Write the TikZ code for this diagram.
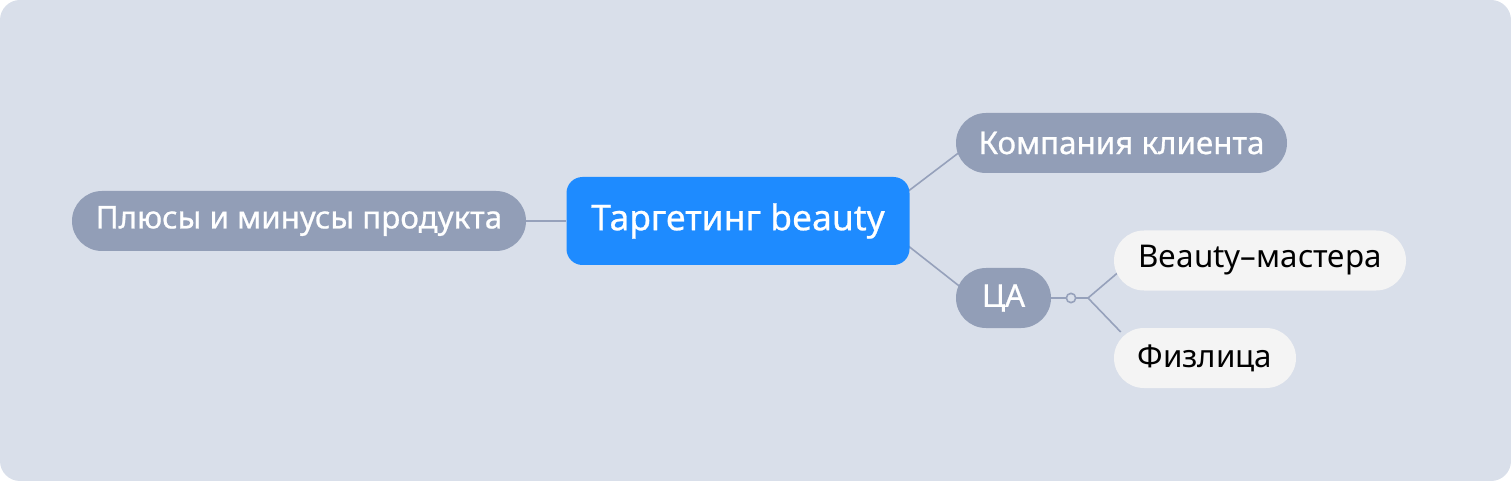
\documentclass[tikz,border=0pt]{standalone}
\usepackage{fontspec}
\setmainfont{Noto Sans}
\newfontfamily\heavyfont{Noto Sans}[FakeBold=0.7]
\usetikzlibrary{backgrounds,calc}

\definecolor{canvas}{HTML}{D9DFEA}
\definecolor{pillgray}{HTML}{929EB7}
\definecolor{linkgray}{HTML}{96A1BB}
\definecolor{topicblue}{HTML}{1E8BFF}
\definecolor{leafwhite}{HTML}{F4F4F4}

\begin{document}
\begin{tikzpicture}[x=0.75pt, y=-0.75pt,
    branch/.style={fill=pillgray, text=white, rounded corners=22.5pt,
      minimum height=45pt, inner sep=0pt, font=\heavyfont\fontsize{23.5}{28}\selectfont},
    leaf/.style={fill=leafwhite, text=black, rounded corners=22.5pt,
      minimum height=45pt, inner sep=0pt, font=\fontsize{23.5}{28}\selectfont},
    link/.style={draw=linkgray, line width=1.2pt}]
        \useasboundingbox (0,0) rectangle (1511,481);

        % Central topic.
        \node[fill=topicblue, text=white, rounded corners=12pt,
          minimum width=257.25pt, minimum height=66pt, inner sep=0pt,
          font=\heavyfont\fontsize{26.6}{31}\selectfont] (ctr) at (738,221) {Таргетинг beauty};

        % Branches.
        \node[branch, minimum width=340.5pt] (plus) at (299,221) {Плюсы и минусы продукта};
        \node[branch, minimum width=248.25pt] (comp) at (1121.5,143) {Компания клиента};
        \node[branch, minimum width=71.25pt] (ca) at (1003.5,298) {ЦА};

        % Leaves of the audience branch.
        \node[leaf, minimum width=219pt] (beauty) at (1260,260.5) {Beauty–мастера};
        \node[leaf, minimum width=136.5pt] (fiz) at (1205,358) {Физлица};

        % Collapse knob and fork point.
        \node[circle, draw=linkgray, fill=canvas, line width=1.2pt,
          minimum size=7pt, inner sep=0pt] (knob) at (1071,298) {};
        \coordinate (fork) at (1088,298);

        \begin{scope}[on background layer]
          % Canvas.
          \fill[canvas, rounded corners=15pt] (0,0) rectangle (1511,481);

          % Connectors.
          \draw[link] (plus.east) -- (ctr.west);
          \draw[link] ($(ctr.east)+(-4,-28)$) -- ($(comp.west)+(4,9)$);
          \draw[link] ($(ctr.east)+(-4,23)$) -- ($(ca.west)+(6,-10)$);
          \draw[link] (ca.east) -- (knob);
          \draw[link] (knob) -- (fork);
          \draw[link] (fork) -- ($(beauty.west)+(9,8)$);
          \draw[link] (fork) -- ($(fiz.west)+(7,-26)$);
        \end{scope}
      \end{tikzpicture}
\end{document}
